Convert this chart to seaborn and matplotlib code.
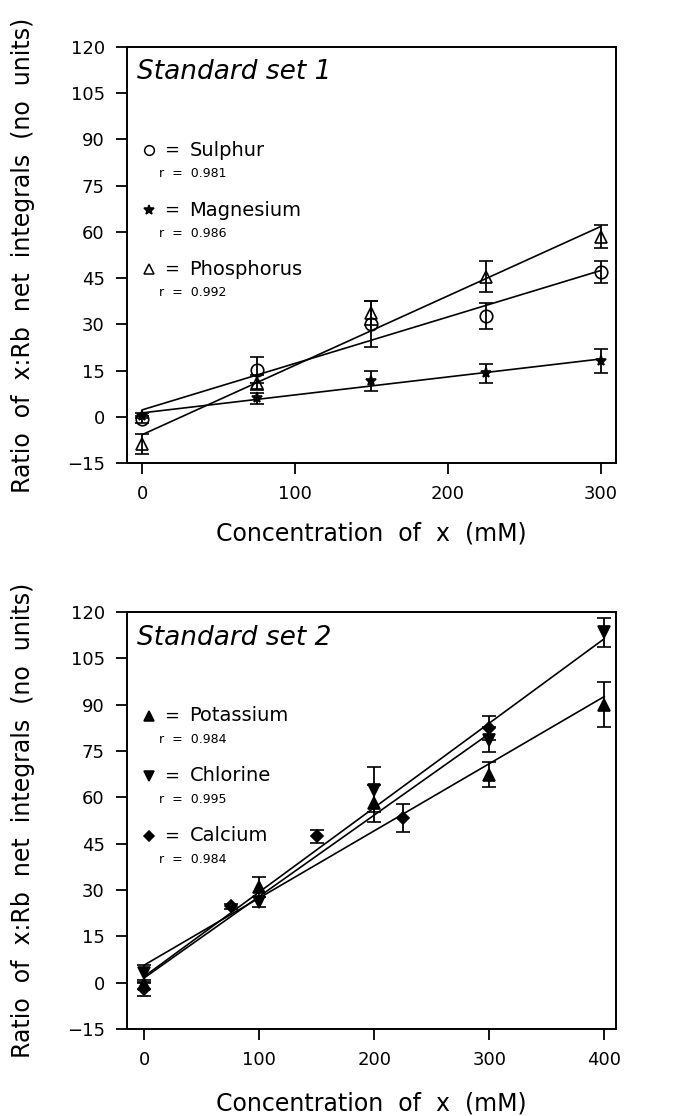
import numpy as np
import pandas as pd
import matplotlib
matplotlib.use("Agg")
import matplotlib.pyplot as plt
import seaborn as sns

# ---- Standard set 1 ----
set1_conc = [0, 75, 150, 225, 300]
sulphur = [-0.8, 15.2, 30.2, 32.8, 46.9]
sulphur_err = [1.2, 4.3, 7.5, 4.2, 3.6]
magnesium = [0.3, 6.0, 11.6, 14.1, 18.1]
magnesium_err = [0.8, 1.8, 3.2, 3.0, 4.0]
phosphorus = [-8.8, 11.1, 33.7, 45.5, 58.4]
phosphorus_err = [3.2, 2.5, 4.0, 5.0, 3.7]

# ---- Standard set 2 ----
set2_conc = [0, 100, 200, 300, 400]
potassium = [-0.5, 30.9, 58.1, 67.3, 90.0]
potassium_err = [1.5, 3.3, 6.0, 4.0, 7.3]
chlorine = [3.0, 26.0, 62.4, 78.6, 113.4]
chlorine_err = [2.7, 1.6, 7.3, 4.0, 4.7]
calcium_conc = [0, 75, 150, 225, 300]
calcium = [-2.2, 24.7, 47.3, 53.2, 82.4]
calcium_err = [2.1, 0.8, 2.1, 4.6, 3.8]

set1_r = ["0.981", "0.986", "0.992"]
set2_r = ["0.984", "0.995", "0.984"]
y_ticks = [-15, 0, 15, 30, 45, 60, 75, 90, 105, 120]

sns.set_style("ticks")
plt.rcParams["font.family"] = ["DejaVu Sans"]
plt.rcParams["text.color"] = "black"
plt.rcParams["axes.labelcolor"] = "black"
plt.rcParams["xtick.color"] = "black"
plt.rcParams["ytick.color"] = "black"
plt.rcParams["xtick.labelcolor"] = "black"
plt.rcParams["ytick.labelcolor"] = "black"

fig = plt.figure(figsize=(6.81, 11.16), dpi=100)
ax1 = fig.add_axes([0.1865, 0.5851, 0.718, 0.3728])
ax2 = fig.add_axes([0.1865, 0.0780, 0.718, 0.3737])

LW = 1.3


def draw_series(ax, x, y, err, marker, ms, filled):
    df = pd.DataFrame({"x": x, "y": y})
    sns.regplot(data=df, x="x", y="y", ax=ax, scatter=False, ci=None,
                line_kws=dict(color="black", lw=1.2))
    ax.errorbar(x, y, yerr=err, fmt=marker, ms=ms, color="black",
                mfc="black" if filled else "none", mec="black", mew=1.2,
                ecolor="black", elinewidth=LW, capsize=5, capthick=LW,
                zorder=3)


def legend_entry(ax, ypos, marker, ms, filled, name, rval):
    ax.plot([0.045], [ypos], transform=ax.transAxes, marker=marker, ms=ms,
            color="black", mfc="black" if filled else "none", mew=1.1,
            clip_on=False)
    ax.text(0.0914, ypos, "=", transform=ax.transAxes, fontsize=13,
            ha="center", va="center", color="black")
    ax.text(0.128, ypos, name, transform=ax.transAxes, fontsize=14,
            ha="left", va="center", color="black")
    ax.text(0.065, ypos - 0.057, "r  =  " + rval, transform=ax.transAxes,
            fontsize=9, ha="left", va="center", color="black")


def style_axes(ax, xticks, xlim):
    ax.set_xlim(*xlim)
    ax.set_ylim(-15, 120)
    ax.set_xticks(xticks)
    ax.set_yticks(y_ticks)
    ax.set_yticklabels([str(v).replace("-", "\u2212") for v in y_ticks])
    for s in ax.spines.values():
        s.set_linewidth(1.4)
        s.set_color("black")
    ax.tick_params(axis="both", which="major", direction="out", length=8,
                   width=1.3, labelsize=13, pad=8, color="black",
                   labelcolor="black")
    ax.set_xlabel("Concentration  of  x  (mM)", fontsize=17,
                  color="black")
    ax.set_ylabel("Ratio  of  x:Rb  net  integrals  (no  units)",
                  fontsize=17, color="black")
    ax.yaxis.set_label_coords(-0.188, 0.5)
    ax.grid(False)


# Set 1
draw_series(ax1, set1_conc, sulphur, sulphur_err, "o", 9, False)
draw_series(ax1, set1_conc, magnesium, magnesium_err, "*", 8, True)
draw_series(ax1, set1_conc, phosphorus, phosphorus_err, "^", 9, False)
style_axes(ax1, [0, 100, 200, 300], (-10, 310))
ax1.xaxis.set_label_coords(0.5, -0.14)
ax1.text(0.02, 0.94, "Standard set 1", transform=ax1.transAxes,
         fontsize=19, style="italic", ha="left", va="center", color="black")
legend_entry(ax1, 0.752, "o", 7, False, "Sulphur", set1_r[0])
legend_entry(ax1, 0.608, "*", 7, True, "Magnesium", set1_r[1])
legend_entry(ax1, 0.466, "^", 7, False, "Phosphorus", set1_r[2])

# Set 2
draw_series(ax2, set2_conc, potassium, potassium_err, "^", 8, True)
draw_series(ax2, set2_conc, chlorine, chlorine_err, "v", 8, True)
draw_series(ax2, calcium_conc, calcium, calcium_err, "D", 6, True)
style_axes(ax2, [0, 100, 200, 300, 400], (-15, 410))
ax2.xaxis.set_label_coords(0.5, -0.15)
ax2.text(0.02, 0.9376, "Standard set 2", transform=ax2.transAxes,
         fontsize=19, style="italic", ha="left", va="center", color="black")
legend_entry(ax2, 0.751, "^", 7, True, "Potassium", set2_r[0])
legend_entry(ax2, 0.607, "v", 7, True, "Chlorine", set2_r[1])
legend_entry(ax2, 0.463, "D", 5, True, "Calcium", set2_r[2])

fig.savefig("out.png", dpi=100, facecolor="white")
